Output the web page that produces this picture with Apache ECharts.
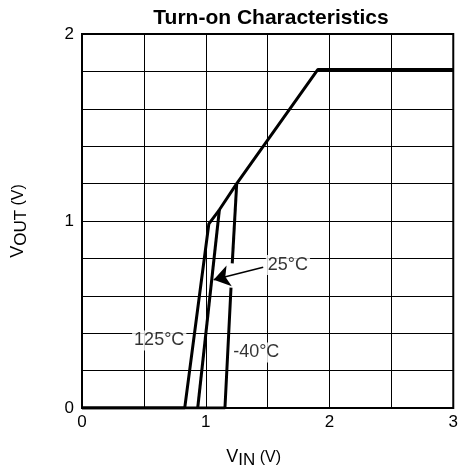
<!DOCTYPE html>
<html>
<head>
<meta charset="utf-8">
<script src="https://cdn.jsdelivr.net/npm/echarts@6/dist/echarts.min.js"></script>
<style>html,body{margin:0;padding:0;background:#fff}#c{width:461px;height:474px}</style>
</head>
<body>
<div id="c"></div>
<script>
// Data
const vin125 = [0, 0.83, 1.025, 1.11, 1.25, 1.905, 3];
const vout125 = [0, 0, 0.985, 1.06, 1.2, 1.81, 1.81];
const vin25 = [0.935, 1.11];
const vout25 = [0, 1.06];
const vinM40Low = [0, 1.155, 1.204];
const voutM40Low = [0, 0, 0.644];
const vinM40High = [1.214, 1.25];
const voutM40High = [0.773, 1.2];
const xTickLabels = ['0', '1', '2', '3'];
const yTickLabels = ['0', '1', '2'];
const curveLabels = [
  { text: '125°C', x: 0.624, y: 0.361 },
  { text: '-40°C', x: 1.408, y: 0.297 },
  { text: '25°C', x: 1.664, y: 0.765 }
];
const arrowFrom = [1.464, 0.753];
const arrowTo = [1.064, 0.686];

const zip = (a, b) => a.map((v, i) => [v, b[i]]);
const FONT = 'Liberation Sans, Arial, Helvetica, sans-serif';
const lineStyle = { color: '#000', width: 3 };

const chart = echarts.init(document.getElementById('c'));
chart.setOption({
  animation: false,
  title: {
    text: 'Turn-on Characteristics',
    left: 266, textAlign: 'center', top: 3,
    textStyle: { fontFamily: FONT, fontWeight: 'bold', fontSize: 21, color: '#000' }
  },
  grid: { left: 82, right: 4, top: 34, bottom: 66, show: true, borderColor: '#000', borderWidth: 2, backgroundColor: 'transparent' },
  xAxis: {
    type: 'value', min: 0, max: 3, interval: 0.5,
    axisLine: { show: false }, axisTick: { show: false },
    splitLine: { show: true, lineStyle: { color: '#000', width: 1 } },
    axisLabel: {
      fontFamily: FONT, fontSize: 17, color: '#000', margin: 6,
      formatter: v => (Math.abs(v - Math.round(v)) < 1e-6 ? xTickLabels[Math.round(v)] : '')
    },
    name: '{v|V}{s|IN}{p| (V)}', nameLocation: 'middle', nameGap: 38,
    nameTextStyle: {
      padding: [0, 28, 0, 0],
      rich: {
        v: { fontFamily: FONT, fontSize: 18, color: '#000' },
        s: { fontFamily: FONT, fontSize: 17, color: '#000', padding: [6, 0, 0, 0] },
        p: { fontFamily: FONT, fontSize: 16, color: '#000' }
      }
    }
  },
  yAxis: {
    type: 'value', min: 0, max: 2, interval: 0.2,
    axisLine: { show: false }, axisTick: { show: false },
    splitLine: { show: true, lineStyle: { color: '#000', width: 1 } },
    axisLabel: {
      fontFamily: FONT, fontSize: 17, color: '#000', margin: 8,
      formatter: v => (Math.abs(v - Math.round(v)) < 1e-6 ? yTickLabels[Math.round(v)] : '')
    },
    name: '{v|V}{s|OUT}{p| (V)}', nameLocation: 'middle', nameGap: 52,
    nameTextStyle: {
      rich: {
        v: { fontFamily: FONT, fontSize: 18, color: '#000' },
        s: { fontFamily: FONT, fontSize: 17, color: '#000', padding: [6, 0, 0, 0] },
        p: { fontFamily: FONT, fontSize: 16, color: '#000' }
      }
    }
  },
  series: [
    { type: 'line', data: zip(vinM40Low, voutM40Low), symbol: 'none', lineStyle, z: 3 },
    { type: 'line', data: zip(vinM40High, voutM40High), symbol: 'none', lineStyle, z: 3 },
    { type: 'line', data: zip(vin25, vout25), symbol: 'none', lineStyle, z: 3 },
    { type: 'line', data: zip(vin125, vout125), symbol: 'none', lineStyle, z: 3,
      markLine: {
        silent: true, symbol: ['none', 'arrow'], symbolSize: 16,
        lineStyle: { color: '#000', width: 1.5, type: 'solid' },
        label: { show: false },
        data: [[{ coord: arrowFrom }, { coord: arrowTo }]]
      }
    },
    { type: 'scatter', data: curveLabels.map(l => [l.x, l.y, l.text]), symbolSize: 0, z: 5,
      label: {
        show: true, position: 'inside', formatter: p => p.data[2],
        fontFamily: FONT, fontSize: 18, color: '#000', backgroundColor: '#fff', padding: [1, 2]
      }
    }
  ]
});
</script>
</body>
</html>
